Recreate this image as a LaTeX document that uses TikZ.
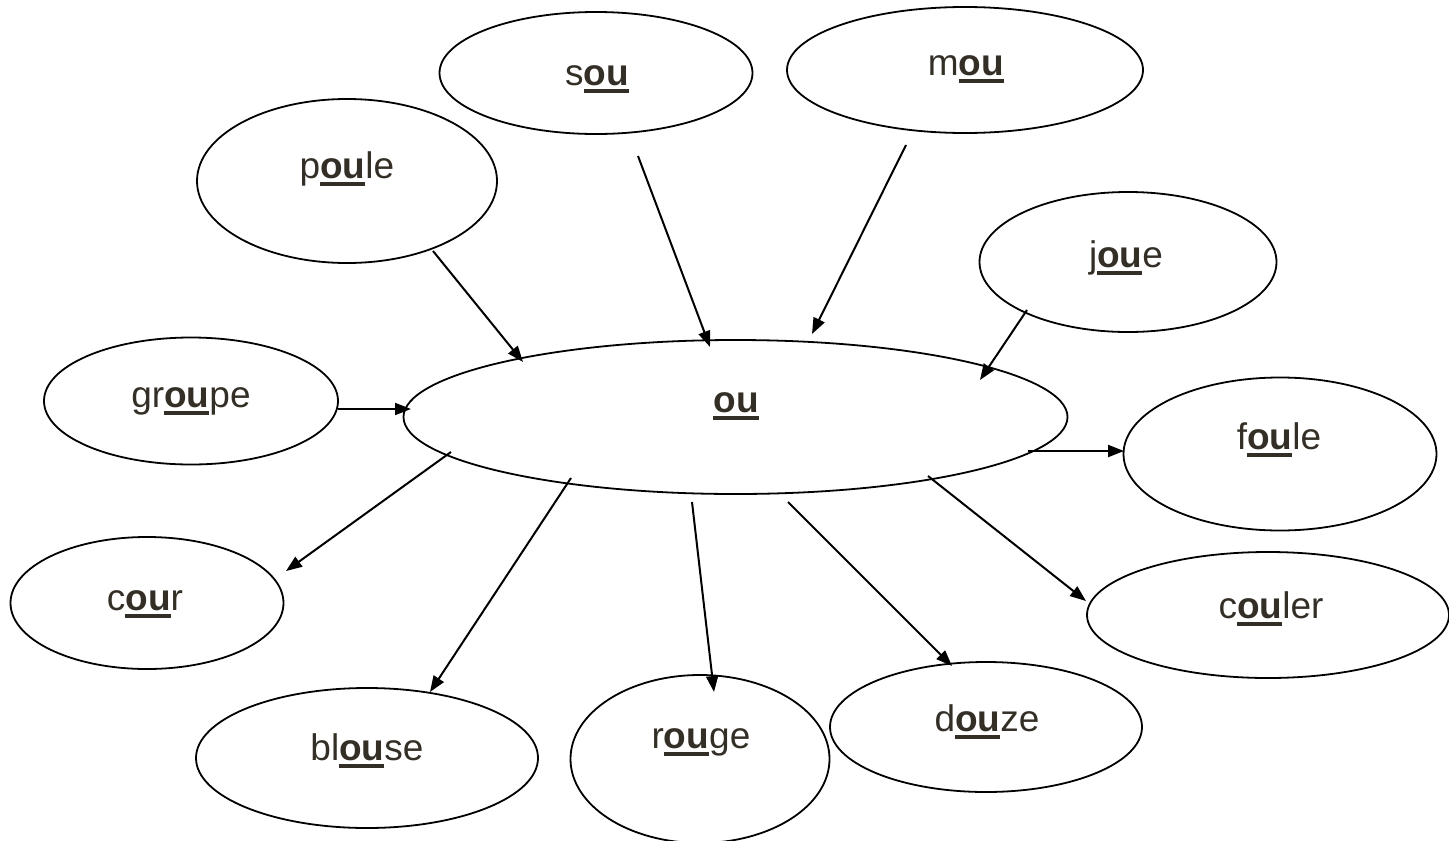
\documentclass[tikz,border=0pt]{standalone}
\usepackage{fontspec}
\setmainfont{Liberation Sans}
\usetikzlibrary{arrows.meta,shapes.geometric}
\definecolor{ink}{RGB}{52,47,38}
% bold, underlined "ou" with a thick rule under it
\newcommand\ulou{\setbox0\hbox{\bfseries ou}\rlap{\rule[-7.5pt]{\wd0}{3.5pt}}\box0}
\begin{document}
\begin{tikzpicture}[x=1pt,y=-1pt,
  bubble/.style={draw=black,line width=1.8pt,ellipse,inner sep=0pt,fill=none},
  word/.style={anchor=base,inner sep=0pt,text=ink,font=\fontsize{37}{44}\selectfont},
  arr/.style={draw=black,line width=2pt,-{Triangle[length=16pt,width=12pt]}}]
\useasboundingbox (0,0) rectangle (1449,841);
% ellipses
\node[bubble,minimum width=664pt,minimum height=154pt] (ou)     at (735.5,417) {};
\node[bubble,minimum width=313pt,minimum height=122pt] (sou)    at (596,73) {};
\node[bubble,minimum width=356pt,minimum height=126pt] (mou)    at (965,70) {};
\node[bubble,minimum width=300pt,minimum height=164pt] (poule)  at (347,181) {};
\node[bubble,minimum width=297pt,minimum height=140pt] (joue)   at (1128,262) {};
\node[bubble,minimum width=294pt,minimum height=127pt] (groupe) at (191,401) {};
\node[bubble,minimum width=313pt,minimum height=153pt] (foule)  at (1280,454) {};
\node[bubble,minimum width=273pt,minimum height=132pt] (cour)   at (147,603) {};
\node[bubble,minimum width=362pt,minimum height=126pt] (couler) at (1268,615) {};
\node[bubble,minimum width=342pt,minimum height=140pt] (blouse) at (367,758) {};
\node[bubble,minimum width=259pt,minimum height=168pt] (rouge)  at (700,759) {};
\node[bubble,minimum width=312pt,minimum height=130pt] (douze)  at (986,727) {};
% words
\node[word] (w-ou)     at (736,412)  {\ulou};
\node[word] (w-sou)    at (597,85)   {s\ulou};
\node[word] (w-mou)    at (966,75)   {m\ulou};
\node[word] (w-poule)  at (347,178)  {p\ulou le};
\node[word] (w-joue)   at (1126,267) {j\ulou e};
\node[word] (w-groupe) at (191,407)  {gr\ulou pe};
\node[word] (w-foule)  at (1279,449) {f\ulou le};
\node[word] (w-cour)   at (145,610)  {c\ulou r};
\node[word] (w-couler) at (1271,618) {c\ulou ler};
\node[word] (w-blouse) at (367,760)  {bl\ulou se};
\node[word] (w-rouge)  at (701,748)  {r\ulou ge};
\node[word] (w-douze)  at (987,731)  {d\ulou ze};
% arrow ends
\coordinate (poule-a)  at (433,251);  \coordinate (poule-b)  at (523,362);
\coordinate (sou-a)    at (638,156);  \coordinate (sou-b)    at (710,347);
\coordinate (mou-a)    at (906,145);  \coordinate (mou-b)    at (812,334);
\coordinate (joue-a)   at (1027,310); \coordinate (joue-b)   at (980,380);
\coordinate (groupe-a) at (338,409);  \coordinate (groupe-b) at (411,409);
\coordinate (foule-a)  at (1028,451); \coordinate (foule-b)  at (1124,451);
\coordinate (couler-a) at (928,476);  \coordinate (couler-b) at (1086,601);
\coordinate (douze-a)  at (788,502);  \coordinate (douze-b)  at (952,666);
\coordinate (rouge-a)  at (692,502);  \coordinate (rouge-b)  at (714,692);
\coordinate (blouse-a) at (571,478);  \coordinate (blouse-b) at (430,692);
\coordinate (cour-a)   at (451,452);  \coordinate (cour-b)   at (286,571);
% arrows into the centre
\draw[arr] (poule-a) -- (poule-b);
\draw[arr] (sou-a) -- (sou-b);
\draw[arr] (mou-a) -- (mou-b);
\draw[arr] (joue-a) -- (joue-b);
\draw[arr] (groupe-a) -- (groupe-b);
% arrows out of the centre
\draw[arr] (foule-a) -- (foule-b);
\draw[arr] (couler-a) -- (couler-b);
\draw[arr] (douze-a) -- (douze-b);
\draw[arr] (rouge-a) -- (rouge-b);
\draw[arr] (blouse-a) -- (blouse-b);
\draw[arr] (cour-a) -- (cour-b);
\end{tikzpicture}
\end{document}
